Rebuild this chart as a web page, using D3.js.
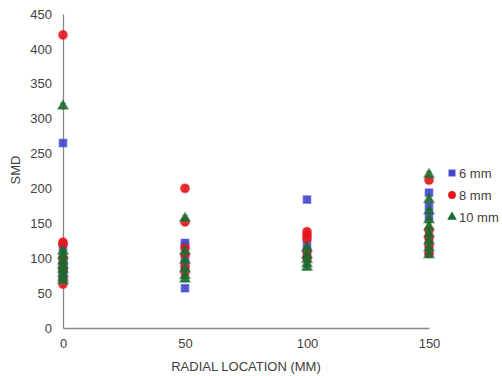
<!DOCTYPE html>
<html><head><meta charset="utf-8">
<script src="https://cdn.jsdelivr.net/npm/d3@7"></script>
<style>body{margin:0;background:#fff}svg{display:block}text{font-family:"Liberation Sans",Arial,sans-serif;fill:#404040}</style>
</head><body>
<script>
const seriesNames = ["6 mm", "8 mm", "10 mm"];
const colors = ["#4048d0", "#e8161e", "#1c6a2e"];
const xTicks = [0, 50, 100, 150];
const yTicks = [0, 50, 100, 150, 200, 250, 300, 350, 400, 450];
// series: 6 mm
const x6 = [0,0,0,0,0,0,0,0, 50,50,50,50,50, 100,100,100, 150,150,150,150,150];
const y6 = [265,115,97,92,88,84,80,76, 122,118,100,90,57, 184,120,105, 194,174,160,125,110];
// series: 8 mm
const x8 = [0,0,0,0,0,0,0, 50,50,50,50,50,50, 100,100,100,100,100, 150,150,150,150,150];
const y8 = [420,123,120,100,85,72,63, 200,152,115,105,88,80, 138,133,128,110,100, 212,140,130,118,107];
// series: 10 mm
const x10 = [0,0,0,0,0,0,0,0,0, 50,50,50,50,50,50, 100,100,100,100,100, 150,150,150,150,150,150,150,150,150];
const y10 = [318,110,104,96,90,84,78,72,68, 157,110,97,85,75,70, 115,105,98,92,87, 220,184,168,155,145,135,125,115,105];
const errs = [4, 4, 4];

const W = 502, H = 376;
const svg = d3.select("body").append("svg").attr("width", W).attr("height", H);
const x = d3.scaleLinear().domain([0, 150]).range([63, 429]);
const y = d3.scaleLinear().domain([0, 450]).range([328, 14]);

const axisColor = "#888";
const gx = svg.append("g").attr("transform", `translate(0,${y(0)})`)
  .call(d3.axisBottom(x).tickValues(xTicks).tickSize(0).tickPadding(11));
const gy = svg.append("g").attr("transform", `translate(${x(0)},0)`)
  .call(d3.axisLeft(y).tickValues(yTicks).tickSize(0).tickPadding(11));
[gx, gy].forEach(g => {
  g.select(".domain").attr("stroke", axisColor).attr("stroke-width", 1.3);
  g.selectAll("text").attr("font-size", 13).attr("fill", "#404040")
    .attr("font-family", '"Liberation Sans",Arial,sans-serif');
});

svg.append("text").attr("x", 246).attr("y", 371).attr("text-anchor", "middle")
  .attr("font-size", 13).text("RADIAL LOCATION (MM)");
svg.append("text").attr("transform", "translate(20,170) rotate(-90)")
  .attr("text-anchor", "middle").attr("font-size", 13).text("SMD");

const data = [
  x6.map((v, i) => ({x: v, y: y6[i]})),
  x8.map((v, i) => ({x: v, y: y8[i]})),
  x10.map((v, i) => ({x: v, y: y10[i]}))
];
const shapes = [d3.symbolSquare, d3.symbolCircle, d3.symbolTriangle];
const sizes = [56, 60, 44];

data.forEach((pts, si) => {
  const g = svg.append("g");
  g.selectAll("g.eb").data(pts).join("g").attr("class", "eb").each(function(d) {
    const e = d3.select(this);
    const cx = x(d.x), y1 = y(d.y + errs[si]), y2 = y(d.y - errs[si]);
    e.append("line").attr("x1", cx).attr("x2", cx).attr("y1", y1).attr("y2", y2).attr("stroke", "#777").attr("stroke-width", 0.8);
    e.append("line").attr("x1", cx - 3).attr("x2", cx + 3).attr("y1", y1).attr("y2", y1).attr("stroke", "#777").attr("stroke-width", 0.8);
    e.append("line").attr("x1", cx - 3).attr("x2", cx + 3).attr("y1", y2).attr("y2", y2).attr("stroke", "#777").attr("stroke-width", 0.8);
  });
  g.selectAll("path.pt").data(pts).join("path").attr("class", "pt")
    .attr("transform", d => `translate(${x(d.x)},${y(d.y)})`)
    .attr("d", d3.symbol().type(shapes[si]).size(sizes[si]))
    .attr("fill", colors[si]).attr("fill-opacity", 0.9)
    .attr("stroke", colors[si]).attr("stroke-opacity", 0.45).attr("stroke-width", 1.5);
});

const lg = svg.append("g");
seriesNames.forEach((n, i) => {
  const ly = 173 + i * 22;
  lg.append("path").attr("transform", `translate(452,${ly})`)
    .attr("d", d3.symbol().type(shapes[i]).size(i === 2 ? 40 : 48))
    .attr("fill", colors[i]);
  lg.append("text").attr("x", 459).attr("y", ly + 4.5).attr("font-size", 13).text(n);
});
</script>
</body></html>
